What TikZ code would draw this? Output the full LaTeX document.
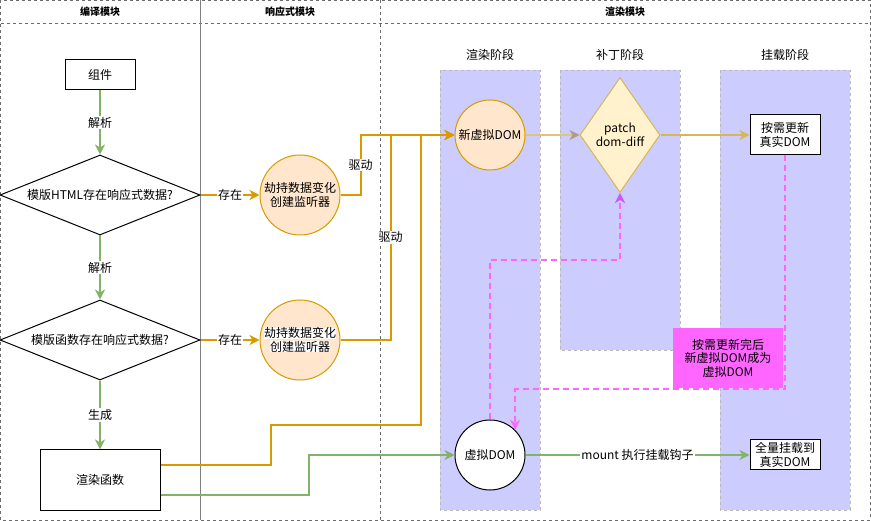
\documentclass[tikz,border=0pt]{standalone}
\usepackage{fontspec}
\setmainfont{Noto Sans CJK SC}
\usepackage{tikz}
\usetikzlibrary{shapes.geometric, arrows.meta, positioning}
\definecolor{flowgreen}{HTML}{82B366}
\definecolor{hookline}{HTML}{D79B00}
\definecolor{peach}{HTML}{FFE6CC}
\definecolor{lavender}{HTML}{CCCCFF}
\definecolor{patchfill}{HTML}{FFF2CC}
\definecolor{patchline}{HTML}{D6B656}
\definecolor{tipbrown}{HTML}{AE9C86}
\definecolor{pinkline}{HTML}{FF66FF}
\definecolor{tippurple}{HTML}{CC55FF}
\newcommand{\whitebg}[1]{{\setlength{\fboxsep}{0pt}\colorbox{white}{#1}}}
\tikzset{
    block/.style={rectangle, draw, fill=white, align=center, inner sep=0pt, line width=1pt},
    decision/.style={diamond, draw, fill=white, align=center, inner sep=0pt, aspect=2.5, minimum width=200pt, minimum height=80pt, line width=1pt},
    listener/.style={circle, draw=hookline, fill=peach, align=center, minimum size=80pt, inner sep=0pt, line width=1pt},
    vdom/.style={circle, draw, align=center, minimum size=70pt, inner sep=0pt, line width=1pt},
    patchbox/.style={diamond, draw=patchline, fill=patchfill, align=center, inner sep=0pt, aspect=0.7, minimum width=80pt, minimum height=115pt, line width=1pt},
    swapnote/.style={rectangle, fill=pinkline, align=center, minimum width=110pt, minimum height=60pt},
    stage/.style={draw=gray!55, dash pattern=on 3pt off 3pt, fill=lavender, line width=0.8pt},
    lanefence/.style={draw=gray!85!black, dash pattern=on 3pt off 3pt, line width=0.8pt},
    lbl/.style={fill=white, inner sep=1pt},
    flowtip/.style={-{Stealth[length=10pt, width=10pt, inset=3pt]}},
    greenflow/.style={flowtip, draw=flowgreen, line width=2pt},
    hookflow/.style={flowtip, draw=hookline, line width=2pt},
    pinkflow/.style={flowtip, draw=pinkline, line width=2pt, dash pattern=on 6pt off 4pt}
}

\begin{document}
\begin{tikzpicture}[x=1pt, y=-1pt, font=\fontsize{12pt}{13.5pt}\selectfont]
    \useasboundingbox (0,0) rectangle (871,521);

    % swimlanes
    \draw[lanefence] (0.5,0.5) rectangle (870,520);
    \draw[lanefence] (0.5,23) -- (870,23);
    \draw[gray, line width=0.8pt] (200,0.5) -- (200,520);
    \draw[lanefence] (380,0.5) -- (380,520);
    \node[font=\bfseries] (hcompile) at (100,12) {编译模块};
    \node[font=\bfseries] (hreactive) at (290,12) {响应式模块};
    \node[font=\bfseries] (hrender) at (625,12) {渲染模块};

    \draw[stage] (440,70) rectangle (540,510);
    \draw[stage] (560,70) rectangle (680,350);
    \draw[stage] (720,70) rectangle (850,510);
    \node (lrender) at (490,55) {渲染阶段};
    \node (lpatch) at (620,55) {补丁阶段};
    \node (lmount) at (785,55) {挂载阶段};

    % nodes
    \node[block, minimum width=70pt, minimum height=30pt] (comp) at (100,75) {组件};
    \node[decision] (tpl) at (100,195) {模版HTML存在响应式数据?};
    \node[decision] (fn) at (100,340) {模版函数存在响应式数据?};
    \node[block, minimum width=120pt, minimum height=60pt] (render) at (100,480) {渲染函数};
    \node[listener] (lisa) at (300,195) {劫持数据变化\\创建监听器};
    \node[listener] (lisb) at (300,340) {\whitebg{劫持数据变化}\\\whitebg{创建监听器}};
    \node[vdom, fill=peach, draw=hookline] (newvd) at (490,135) {新虚拟DOM};
    \node[patchbox] (patch) at (620,135) {patch\\dom-diff};
    \node[block, minimum width=70pt, minimum height=40pt] (upd) at (785,135) {按需更新\\真实DOM};
    \node[vdom, fill=white] (vd) at (490,455) {虚拟DOM};
    \node[block, minimum width=70pt, minimum height=30pt] (full) at (785,455) {全量挂载到\\真实DOM};
    \node[swapnote] (swap) at (728,358) {按需更新完后\\新虚拟DOM成为\\虚拟DOM};

    % compile flow
    \draw[greenflow] (comp) -- node[lbl]{解析} (tpl);
    \draw[greenflow] (tpl) -- node[lbl]{解析} (fn);
    \draw[greenflow] (fn) -- node[lbl]{生成} (render);
    \draw[hookflow] (tpl) -- node[lbl]{存在} (lisa);
    \draw[hookflow] (fn) -- node[lbl]{存在} (lisb);

    % drive the render stage
    \draw[hookflow] (lisa.east) -- ++(20,0) |- node[lbl, pos=0.25]{驱动} (newvd.west);
    \draw[hookflow] (lisb.east) -- ++(50,0) |- node[lbl, pos=0.25]{驱动} (newvd.west);
    \draw[hookflow] ([yshift=15pt]render.east) -- ++(110,0) -- ++(0,-40) -- ++(150,0) |- (newvd.west);
    \draw[greenflow] ([yshift=-15pt]render.east) -- ++(148,0) |- (vd.west);

    \draw[draw=patchline!80, line width=2pt, -{Stealth[length=10pt, width=10pt, inset=3pt, color=tipbrown]}] (newvd) -- (patch);
    \draw[draw=patchline, line width=2pt, flowtip] (patch) -- (upd);
    \draw[greenflow] (vd) -- node[lbl]{mount 执行挂载钩子} (full);

    \coordinate (turnup) at (550,260);
    \coordinate (turnback) at (0,389);
    \draw[pinkflow, -{Stealth[length=10pt, width=10pt, inset=3pt, color=tippurple]}] (vd.north) |- (turnup) -| (patch.south);
    \draw[pinkflow] (upd.south) |- (vd.45 |- turnback) -- (vd.45);
\end{tikzpicture}
\end{document}
